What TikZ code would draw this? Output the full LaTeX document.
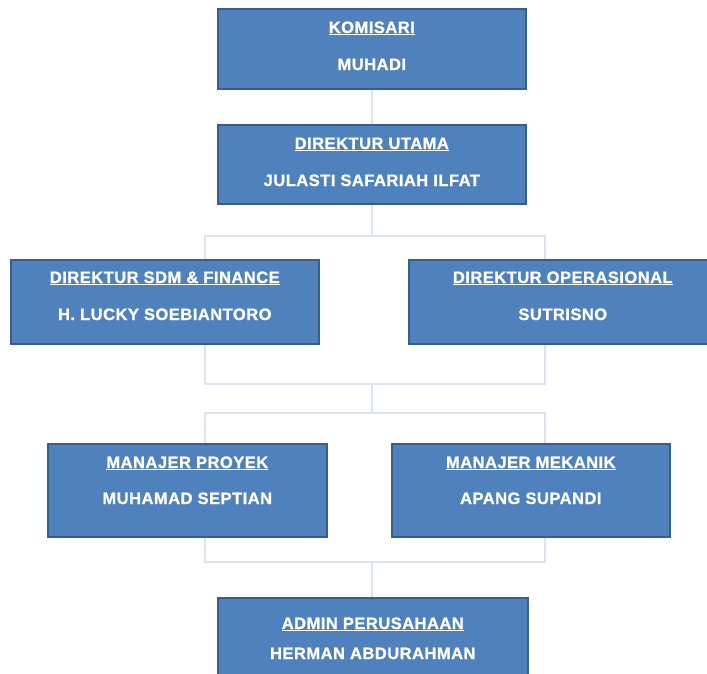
\documentclass[tikz,border=0pt]{standalone}
\usepackage{fontspec}
\setmainfont{Liberation Sans}[LetterSpace=3,BoldFeatures={FakeBold=1.2}]
\usetikzlibrary{backgrounds,calc}
\definecolor{boxfill}{HTML}{4F81BD}
\definecolor{boxline}{HTML}{385D8A}
\definecolor{conn}{HTML}{DCE4EF}
\tikzset{
  orgbox/.style={draw=boxline,fill=boxfill,line width=1.6pt,inner sep=0pt,anchor=north west},
  ttl/.style={text=white,font=\fontsize{16.5}{18}\selectfont\bfseries,anchor=base,inner sep=0pt},
  link/.style={draw=conn,line width=1.5pt}
}
\newcommand{\ttlline}[1]{\underline{#1}}
\begin{document}
\begin{tikzpicture}[x=1pt,y=-1pt]
\clip (0,0) rectangle (707,673);
\useasboundingbox (0,0) rectangle (707,673);
% boxes
\node[orgbox,minimum width=308pt,minimum height=80pt] (kom) at (217,8) {};
\node[orgbox,minimum width=308pt,minimum height=79pt] (dir) at (217,124) {};
\node[orgbox,minimum width=308pt,minimum height=84pt] (sdm) at (10,259) {};
\node[orgbox,minimum width=308pt,minimum height=84pt] (ops) at (408,259) {};
\node[orgbox,minimum width=279pt,minimum height=93pt] (pro) at (47,443) {};
\node[orgbox,minimum width=278pt,minimum height=93pt] (mek) at (391,443) {};
\node[orgbox,minimum width=310pt,minimum height=90pt] (adm) at (217,597) {};
% texts
\node[ttl] (komT) at ($(kom.north)+(0,25)$) {\ttlline{KOMISARI}};
\node[ttl] (komN) at ($(kom.north)+(0,62)$) {MUHADI};
\node[ttl] (dirT) at ($(dir.north)+(0,25)$) {\ttlline{DIREKTUR UTAMA}};
\node[ttl] (dirN) at ($(dir.north)+(0,62)$) {JULASTI SAFARIAH ILFAT};
\node[ttl] (sdmT) at ($(sdm.north)+(0,24)$) {\ttlline{DIREKTUR SDM \& FINANCE}};
\node[ttl] (sdmN) at ($(sdm.north)+(0,61)$) {H. LUCKY SOEBIANTORO};
\node[ttl] (opsT) at ($(sdm.north)+(398,24)$) {\ttlline{DIREKTUR OPERASIONAL}};
\node[ttl] (opsN) at ($(sdm.north)+(398,61)$) {SUTRISNO};
\node[ttl] (proT) at ($(pro.north)+(0,25)$) {\ttlline{MANAJER PROYEK}};
\node[ttl] (proN) at ($(pro.north)+(0,61)$) {MUHAMAD SEPTIAN};
\node[ttl] (mekT) at ($(mek.north)+(0,25)$) {\ttlline{MANAJER MEKANIK}};
\node[ttl] (mekN) at ($(mek.north)+(0,61)$) {APANG SUPANDI};
\node[ttl] (admT) at ($(adm.north)+(0,32)$) {\ttlline{ADMIN PERUSAHAAN}};
\node[ttl] (admN) at ($(adm.north)+(0,62)$) {HERMAN ABDURAHMAN};
% connectors
\coordinate (b1tl) at (205,236);
\coordinate (b1br) at (545,384);
\coordinate (b2tl) at (205,413);
\coordinate (b2br) at (545,562);
\begin{scope}[on background layer]
\draw[link] (kom.south) -- (dir.north);
\draw[link] (dir.south) -- (dir.south |- b1tl);
\draw[link] (b1tl) rectangle (b1br);
\draw[link] (dir.south |- b1br) -- (dir.south |- b2tl);
\draw[link] (b2tl) rectangle (b2br);
\draw[link] (dir.south |- b2br) -- (dir.south |- adm.north);
\end{scope}
\end{tikzpicture}
\end{document}
